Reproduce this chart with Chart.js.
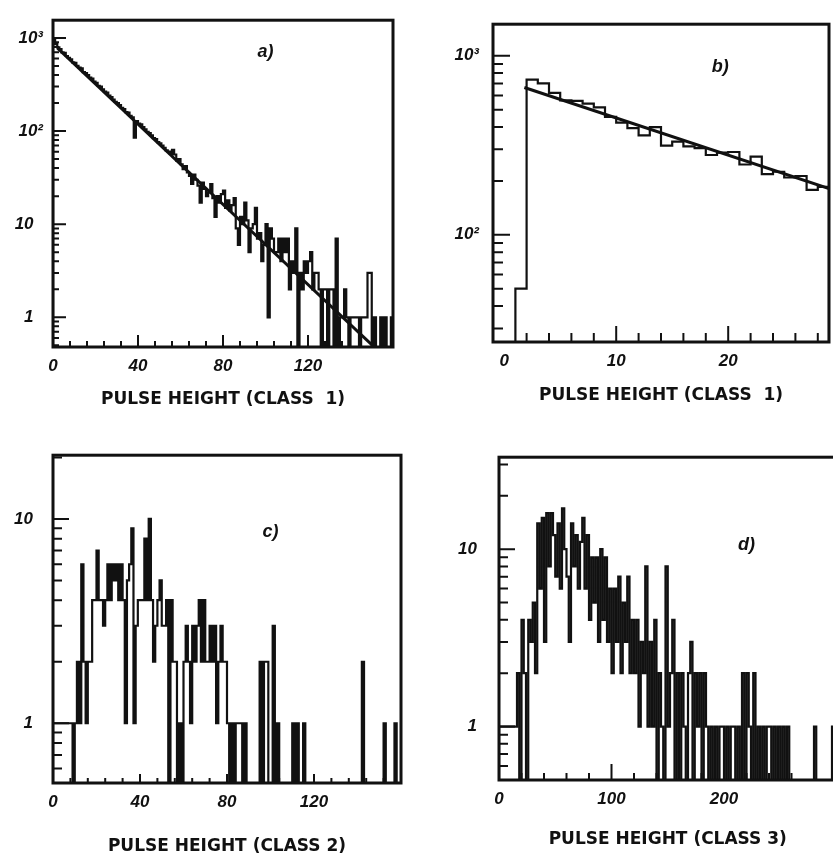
<!DOCTYPE html>
<html>
<head>
<meta charset="utf-8">
<script src="https://cdn.jsdelivr.net/npm/chart.js@4.4.0/dist/chart.umd.min.js"></script>
<style>
  body { margin: 0; background: #fff; overflow: hidden; }
  #page { position: relative; width: 833px; height: 864px; overflow: hidden; background: #fff; }
  canvas { position: absolute; }
</style>
</head>
<body>
<div id="page">
  <canvas id="chartA" width="416" height="425" style="left:0;top:0"></canvas>
  <canvas id="chartB" width="417" height="425" style="left:416px;top:0"></canvas>
  <canvas id="chartC" width="416" height="439" style="left:0;top:425px"></canvas>
  <canvas id="chartD" width="429" height="439" style="left:416px;top:425px"></canvas>
</div>
<script>
// a) class 1, channels 0..159
const aCounts = [
  950, 860, 790, 760, 700, 690, 640, 610, 590, 545, 540, 500, 480, 470, 430, 420, 400, 375, 365, 340,
  330, 305, 300, 280, 265, 258, 240, 232, 218, 206, 200, 190, 178, 172, 160, 158, 146, 140, 85, 128,
  120, 118, 110, 104, 98, 95, 90, 84, 82, 76, 74, 70, 66, 62, 60, 57, 63, 56, 48, 50,
  44, 39, 42, 36, 33, 27, 34, 30, 26, 17, 28, 24, 20, 22, 27, 19, 12, 20, 17, 21,
  23, 15, 18, 14, 16, 19, 9, 6, 12, 10, 17, 11, 5, 9, 10, 15, 7, 8, 4, 6,
  10, 1, 9, 7, 5, 5, 7, 4, 7, 5, 7, 2, 4, 3, 9, 0, 3, 2, 4, 3,
  4, 5, 2, 3, 3, 2, 0, 2, 2, 0, 2, 2, 0, 7, 0, 1, 1, 2, 1, 0,
  1, 1, 1, 1, 0, 1, 1, 1, 3, 3, 0, 1, 0, 0, 1, 0, 1, 0, 0, 1
];
const aFitX = [2, 152];
const aFitY = [780, 0.46];
const aYTicks = [1, 10, 100, 1000];
const aYLabels = ['1\u2007', '10\u2007', '10²', '10³'];
const aXTicks = [0, 40, 80, 120];

// b) class 1, channels 1..28
const bCounts = [
  50, 736, 700, 620, 563, 560, 540, 515, 455, 423, 394, 359, 399, 315,
  331, 312, 305, 279, 288, 290, 247, 273, 218, 225, 209, 213, 178, 185
];
const bFitX = [1.8, 29];
const bFitY = [665, 181];
const bYTicks = [100, 1000];
const bYLabels = ['10²', '10³'];
const bXTicks = [0, 10, 20];

// c) class 2, channels 0..159
const cCounts = [
  1, 1, 1, 1, 1, 1, 1, 1, 1, 0, 1, 2, 1, 6, 2, 1, 2, 2, 4, 4,
  7, 4, 4, 3, 4, 6, 4, 6, 5, 6, 4, 6, 4, 1, 5, 6, 9, 1, 3, 4,
  4, 4, 8, 4, 10, 4, 2, 3, 4, 5, 3, 3, 4, 0, 4, 2, 2, 0, 1, 0,
  2, 3, 2, 1, 3, 2, 3, 4, 2, 4, 2, 2, 3, 2, 3, 1, 2, 3, 2, 2,
  1, 0, 1, 0, 1, 1, 1, 0, 1, 0, 0, 0, 0, 0, 0, 2, 0, 2, 2, 0,
  0, 3, 0, 1, 0, 0, 0, 0, 0, 0, 1, 0, 1, 0, 0, 1, 0, 0, 0, 0,
  0, 0, 0, 0, 0, 0, 0, 0, 0, 0, 0, 0, 0, 0, 0, 0, 0, 0, 0, 0,
  0, 0, 2, 0, 0, 0, 0, 0, 0, 0, 0, 0, 1, 0, 0, 0, 0, 1, 0, 0
];
const cYTicks = [1, 10];
const cYLabels = ['1', '10'];
const cXTicks = [0, 40, 80, 120];

// d) class 3, bins of 2 channels, 0..298
const dCounts = [
  1, 1, 1, 1, 1, 1, 1, 1, 2, 0, 4, 2, 0, 4, 3, 5, 2, 14, 6, 15,
  3, 16, 8, 16, 12, 7, 14, 6, 17, 10, 7, 3, 14, 8, 12, 6, 11, 15, 6, 12,
  4, 9, 5, 9, 3, 10, 4, 9, 3, 6, 2, 6, 3, 7, 2, 5, 3, 7, 2, 4,
  2, 4, 1, 3, 2, 8, 1, 3, 1, 4, 0, 2, 1, 0, 8, 1, 2, 4, 0, 2,
  0, 2, 1, 0, 2, 3, 0, 2, 1, 2, 0, 2, 1, 0, 1, 0, 1, 0, 1, 1,
  0, 1, 0, 1, 1, 0, 1, 0, 2, 0, 2, 1, 0, 2, 0, 1, 0, 1, 0, 1,
  1, 0, 1, 0, 1, 0, 1, 0, 1, 0, 0, 0, 0, 0, 0, 0, 0, 0, 0, 0,
  1, 0, 0, 0, 0, 0, 0, 0, 1, 0
];
const dYTicks = [1, 10];
const dYLabels = ['1', '10'];
const dXTicks = [0, 100, 200];

const ink = '#111';
const tickFont = { family: "'Liberation Sans', Arial, sans-serif", size: 17, weight: 'bold', style: 'italic' };
const titleFont = { family: "'DejaVu Sans', sans-serif", size: 17, weight: 'bold' };
const FLOOR = 1e-3; // empty bins drop below the axis

// step outline of a histogram, points at bin left edges
function histogram(counts, start, width) {
  const pts = [{ x: start, y: FLOOR }];
  counts.forEach((c, i) => pts.push({ x: start + i * width, y: c > 0 ? c : FLOOR }));
  const end = start + counts.length * width;
  const last = counts[counts.length - 1];
  pts.push({ x: end, y: last > 0 ? last : FLOOR });
  pts.push({ x: end, y: FLOOR });
  return pts;
}

function logMinor(lo, hi) {
  const out = [];
  for (let e = -1; e <= 3; e++) {
    for (let k = 2; k <= 9; k++) {
      const v = k * Math.pow(10, e);
      if (v >= lo && v <= hi) out.push(v);
    }
  }
  return out;
}

function every(step, lo, hi) {
  const out = [];
  for (let v = lo; v <= hi; v += step) out.push(v);
  return out;
}

// box, inward ticks and the panel letter
const framePlugin = {
  id: 'frame',
  afterDatasetsDraw(chart, args, o) {
    const { ctx, chartArea: a } = chart;
    const x = chart.scales.x, y = chart.scales.y;
    ctx.save();
    ctx.strokeStyle = ink;
    ctx.lineWidth = 2;
    ctx.beginPath();
    o.yMinor.forEach(v => { const p = y.getPixelForValue(v); ctx.moveTo(a.left, p); ctx.lineTo(a.left + o.yMinorLen, p); });
    o.yMajor.forEach(v => { const p = y.getPixelForValue(v); ctx.moveTo(a.left, p); ctx.lineTo(a.left + o.yMajorLen, p); });
    o.xMinor.forEach(v => { const p = x.getPixelForValue(v); ctx.moveTo(p, a.bottom); ctx.lineTo(p, a.bottom - o.xMinorLen); });
    o.xMajor.forEach(v => { const p = x.getPixelForValue(v); ctx.moveTo(p, a.bottom); ctx.lineTo(p, a.bottom - o.xMajorLen); });
    ctx.stroke();
    ctx.lineWidth = 3;
    ctx.strokeRect(a.left, a.top, a.right - a.left, a.bottom - a.top);
    ctx.fillStyle = ink;
    ctx.font = "italic bold 18px 'Liberation Sans', Arial, sans-serif";
    ctx.textAlign = 'center';
    ctx.textBaseline = 'middle';
    ctx.fillText(o.tag.text, x.getPixelForValue(o.tag.x), y.getPixelForValue(o.tag.y));
    ctx.restore();
  }
};
Chart.register(framePlugin);

function panel(id, p) {
  const datasets = [{
    data: histogram(p.counts, p.start, p.width),
    stepped: true, borderColor: ink, borderWidth: 2.2, pointRadius: 0, fill: false
  }];
  if (p.fitX) {
    datasets.push({
      data: p.fitX.map((v, i) => ({ x: v, y: p.fitY[i] })),
      borderColor: ink, borderWidth: 3, pointRadius: 0, fill: false
    });
  }
  return new Chart(document.getElementById(id), {
    type: 'line',
    data: { datasets },
    options: {
      responsive: false,
      animation: false,
      devicePixelRatio: 1,
      layout: { padding: p.pad },
      plugins: {
        legend: { display: false },
        tooltip: { enabled: false },
        frame: p.frame
      },
      scales: {
        x: {
          type: 'linear', min: p.xMin, max: p.xMax,
          grid: { display: false, drawTicks: false }, border: { display: false },
          afterBuildTicks: s => { s.ticks = p.xTicks.map(v => ({ value: v })); },
          afterFit: s => { s.height = p.xHeight; },
          ticks: { font: tickFont, color: ink, padding: p.xPad, maxRotation: 0, autoSkip: false, callback: v => String(v) },
          title: { display: true, text: p.title, font: titleFont, color: ink, padding: { top: 0, bottom: p.titlePad } }
        },
        y: {
          type: 'logarithmic', min: p.yMin, max: p.yMax,
          grid: { display: false, drawTicks: false }, border: { display: false },
          afterBuildTicks: s => { s.ticks = p.yTicks.map(v => ({ value: v })); },
          afterFit: s => { s.width = p.yWidth; },
          ticks: { font: tickFont, color: ink, padding: p.yPad, autoSkip: false, callback: (v, i) => p.yLabels[i] }
        }
      }
    }
  });
}

panel('chartA', {
  counts: aCounts, start: 0, width: 1, fitX: aFitX, fitY: aFitY,
  xMin: 0, xMax: 160, yMin: 0.48, yMax: 1550,
  xTicks: aXTicks, yTicks: aYTicks, yLabels: aYLabels,
  pad: { left: 0, top: 15, right: 23, bottom: 0 }, yWidth: 53, xHeight: 78,
  xPad: 9, yPad: 10, title: 'PULSE HEIGHT (CLASS  1)', titlePad: 15,
  frame: {
    yMajor: aYTicks, yMinor: logMinor(0.5, 1550), yMajorLen: 13, yMinorLen: 6,
    xMajor: [40, 80, 120], xMinor: every(8, 8, 152), xMajorLen: 12, xMinorLen: 6,
    tag: { text: 'a)', x: 100, y: 700 }
  }
});

panel('chartB', {
  counts: bCounts, start: 1, width: 1, fitX: bFitX, fitY: bFitY,
  xMin: -1, xMax: 29, yMin: 25.2, yMax: 1500,
  xTicks: bXTicks, yTicks: bYTicks, yLabels: bYLabels,
  pad: { left: 0, top: 10, right: 4, bottom: 0 }, yWidth: 77, xHeight: 83,
  xPad: 9, yPad: 14, title: 'PULSE HEIGHT (CLASS  1)', titlePad: 19,
  frame: {
    yMajor: bYTicks, yMinor: logMinor(26, 1490), yMajorLen: 17, yMinorLen: 10,
    xMajor: [10, 20], xMinor: every(2, 2, 28), xMajorLen: 16, xMinorLen: 9,
    tag: { text: 'b)', x: 19.3, y: 860 }
  }
});

panel('chartC', {
  counts: cCounts, start: 0, width: 1,
  xMin: 0, xMax: 160, yMin: 0.51, yMax: 20.5,
  xTicks: cXTicks, yTicks: cYTicks, yLabels: cYLabels,
  pad: { left: 0, top: 19, right: 15, bottom: 0 }, yWidth: 53, xHeight: 81,
  xPad: 9, yPad: 20, title: 'PULSE HEIGHT (CLASS 2)', titlePad: 7,
  frame: {
    yMajor: cYTicks, yMinor: logMinor(0.52, 20), yMajorLen: 16, yMinorLen: 9,
    xMajor: [40, 80, 120], xMinor: every(8, 8, 152), xMajorLen: 9, xMinorLen: 5,
    tag: { text: 'c)', x: 100, y: 8.6 }
  }
});

panel('chartD', {
  counts: dCounts, start: 0, width: 2,
  xMin: 0, xMax: 300, yMin: 0.5, yMax: 33,
  xTicks: dXTicks, yTicks: dYTicks, yLabels: dYLabels,
  pad: { left: 0, top: 15, right: 8.5, bottom: 0 }, yWidth: 83, xHeight: 84,
  xPad: 9, yPad: 22, title: 'PULSE HEIGHT (CLASS 3)', titlePad: 14,
  frame: {
    yMajor: dYTicks, yMinor: logMinor(0.52, 32), yMajorLen: 16, yMinorLen: 9,
    xMajor: [100, 200], xMinor: every(20, 20, 280), xMajorLen: 16, xMinorLen: 7,
    tag: { text: 'd)', x: 220, y: 10.6 }
  }
});
</script>
</body>
</html>
